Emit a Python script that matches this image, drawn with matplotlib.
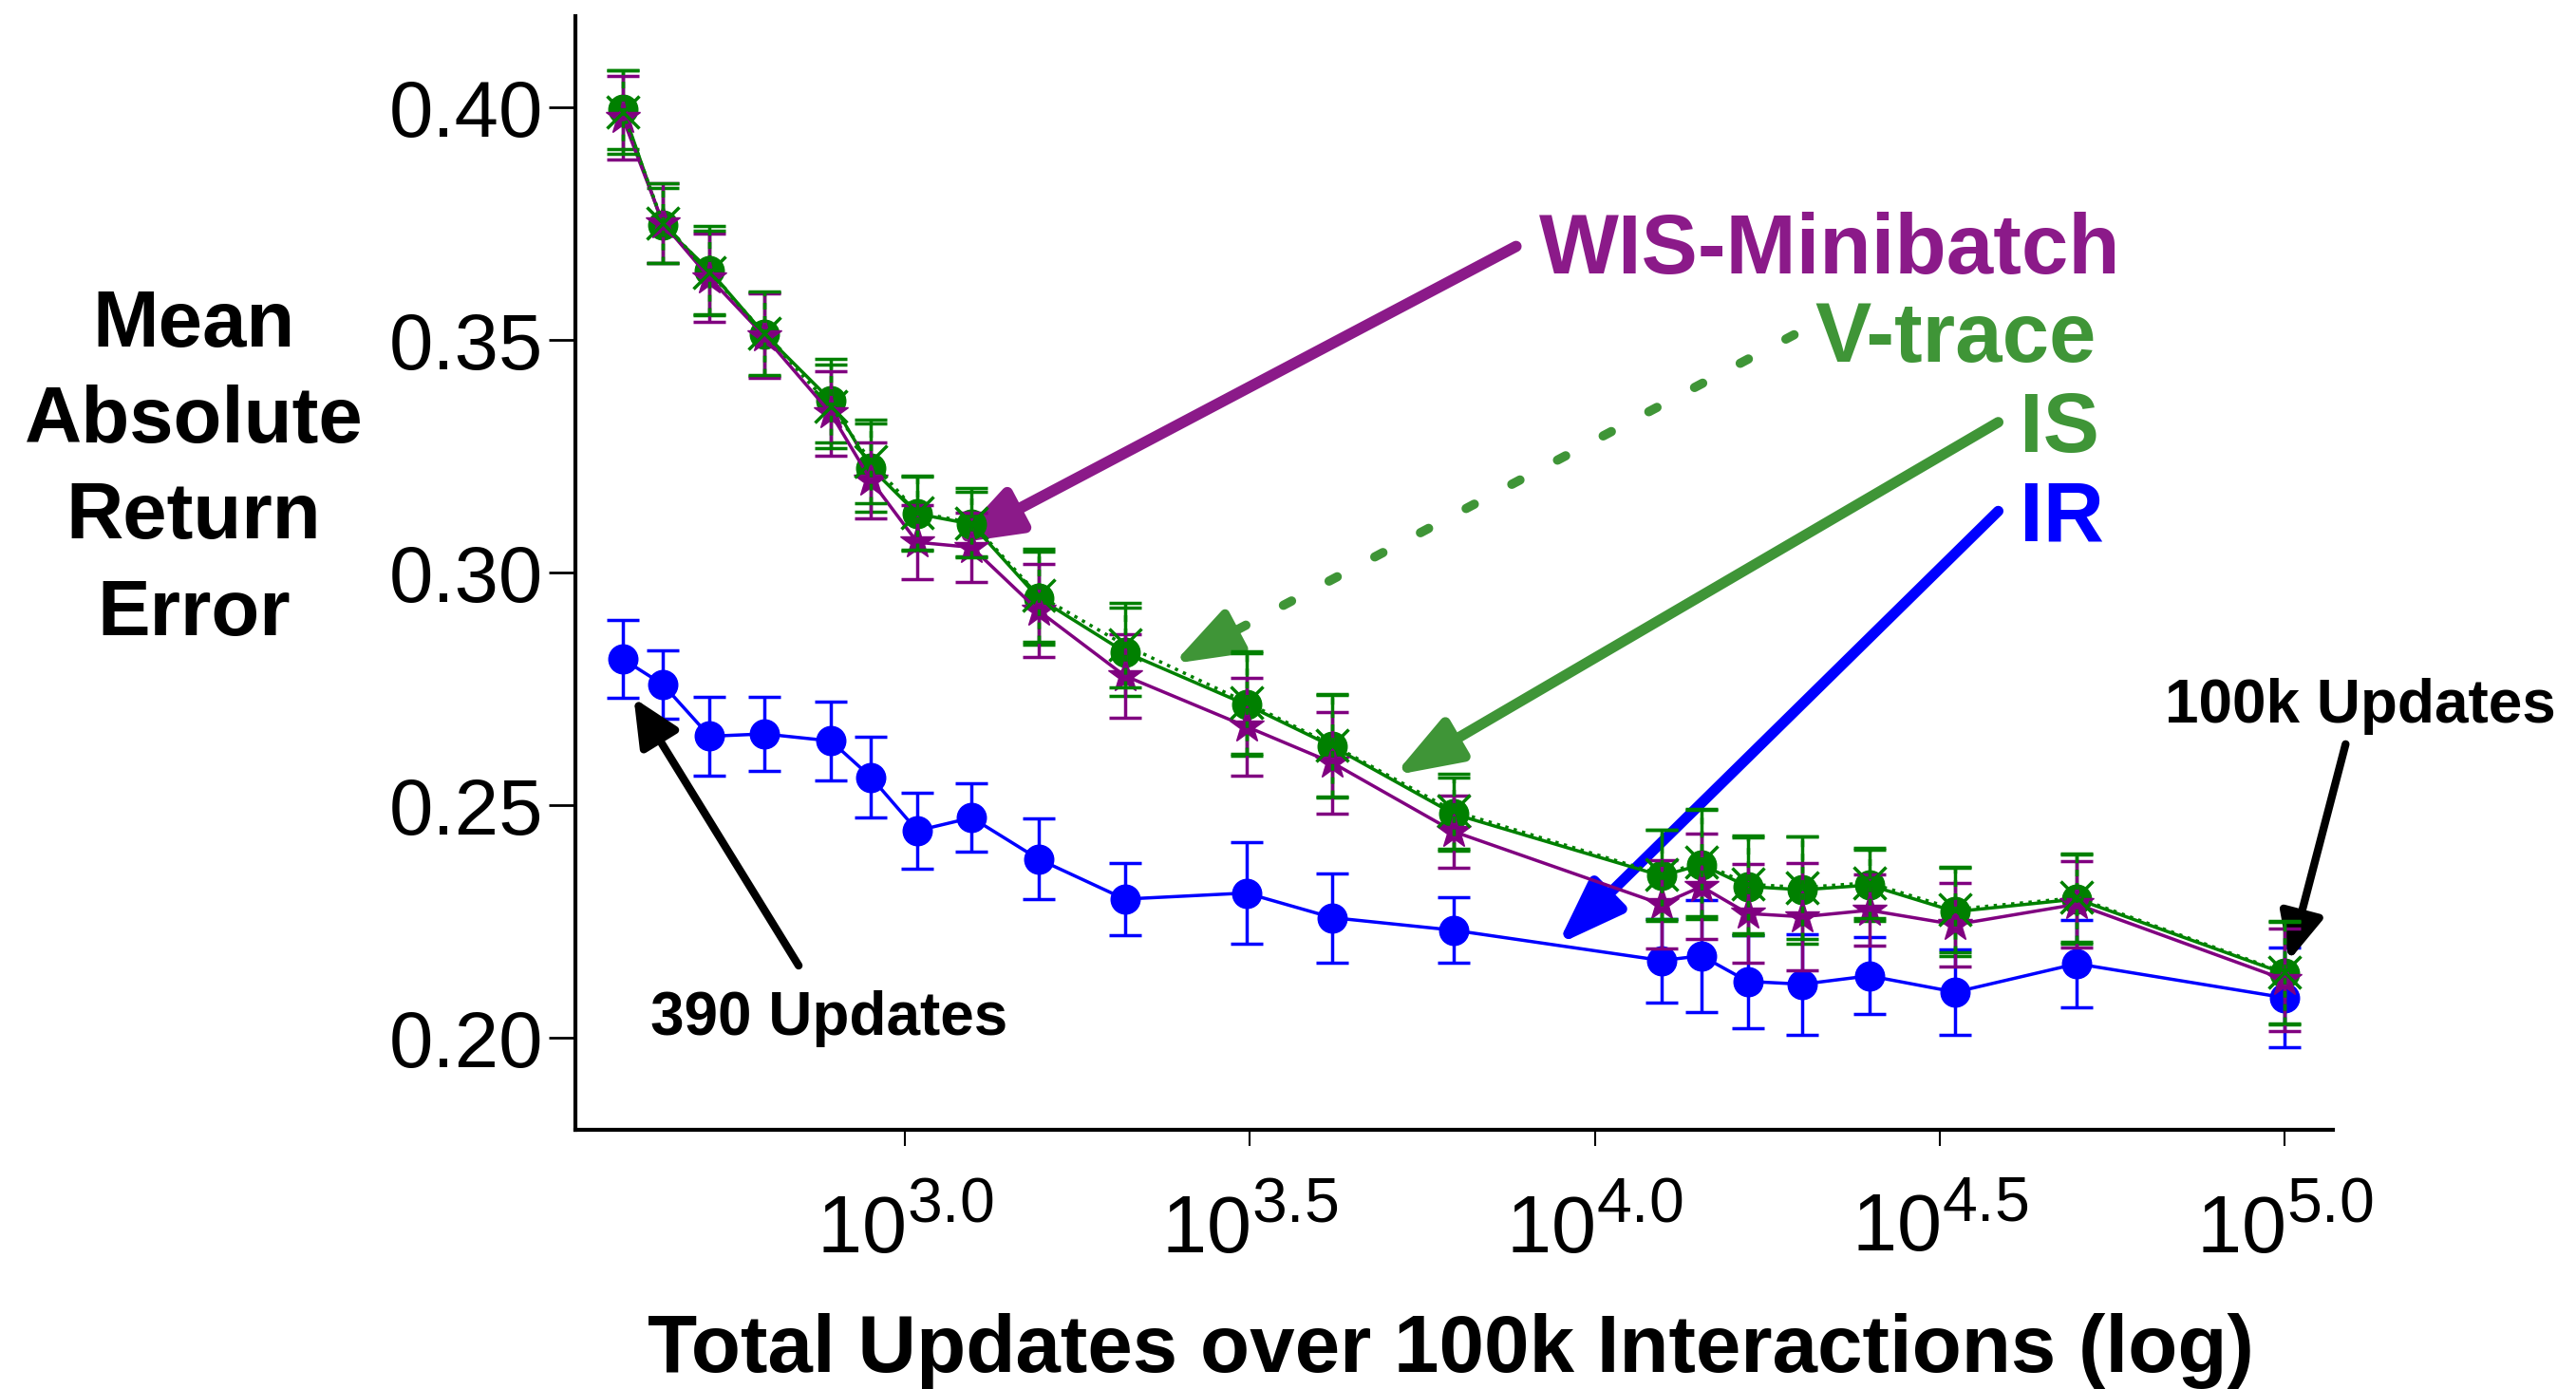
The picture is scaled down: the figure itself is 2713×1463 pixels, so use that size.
import numpy as np
import matplotlib
matplotlib.use("Agg")
import matplotlib.pyplot as plt

plt.rcParams['font.family'] = ['Liberation Sans', 'DejaVu Sans']
plt.rcParams['mathtext.fontset'] = 'custom'
plt.rcParams['mathtext.rm'] = 'Liberation Sans'
plt.rcParams['mathtext.it'] = 'Liberation Sans'
plt.rcParams['mathtext.bf'] = 'Liberation Sans:bold'

# larger exponents in the 10^x tick labels
try:
    import matplotlib._mathtext as _mt
    _mt.SHRINK_FACTOR = 0.78
except Exception:
    pass

# total updates over 100k interactions (100000 / n)
updates = [390, 446, 521, 625, 781, 893, 1042, 1250, 1562, 2083, 3125, 4167,
           6250, 12500, 14286, 16667, 20000, 25000, 33333, 50000, 100000]

ir_mean = [0.2815, 0.2760, 0.2649, 0.2654, 0.2639, 0.2561, 0.2446, 0.2474, 0.2385,
           0.2299, 0.2312, 0.2259, 0.2232, 0.2167, 0.2177, 0.2122, 0.2116, 0.2134,
           0.2099, 0.2160, 0.2087]
ir_err = [0.0084, 0.0073, 0.0085, 0.0080, 0.0085, 0.0087, 0.0082, 0.0073, 0.0087,
          0.0077, 0.0110, 0.0096, 0.0070, 0.0090, 0.0120, 0.0100, 0.0108, 0.0083,
          0.0092, 0.0094, 0.0107]

is_mean = [0.3996, 0.3747, 0.3650, 0.3514, 0.3371, 0.3226, 0.3127, 0.3105, 0.2946,
           0.2830, 0.2717, 0.2627, 0.2482, 0.2349, 0.2373, 0.2326, 0.2319, 0.2329,
           0.2272, 0.2299, 0.2139]
is_err = [0.0085, 0.0080, 0.0095, 0.0090, 0.0090, 0.0095, 0.0080, 0.0070, 0.0100,
          0.0095, 0.0110, 0.0110, 0.0078, 0.0098, 0.0117, 0.0105, 0.0115, 0.0076,
          0.0095, 0.0095, 0.0110]

vtrace_mean = [0.3990, 0.3752, 0.3646, 0.3516, 0.3358, 0.3240, 0.3130, 0.3108, 0.2952,
               0.2845, 0.2722, 0.2630, 0.2488, 0.2352, 0.2378, 0.2331, 0.2324, 0.2334,
               0.2277, 0.2302, 0.2141]
vtrace_err = [0.0090, 0.0085, 0.0090, 0.0090, 0.0090, 0.0090, 0.0080, 0.0075, 0.0100,
              0.0090, 0.0110, 0.0110, 0.0080, 0.0095, 0.0115, 0.0105, 0.0110, 0.0075,
              0.0092, 0.0095, 0.0110]

wis_mean = [0.3978, 0.3752, 0.3634, 0.3510, 0.3343, 0.3199, 0.3066, 0.3055, 0.2919,
            0.2779, 0.2670, 0.2592, 0.2444, 0.2288, 0.2326, 0.2268, 0.2261, 0.2275,
            0.2244, 0.2288, 0.2126]
wis_err = [0.0090, 0.0085, 0.0095, 0.0090, 0.0090, 0.0082, 0.0080, 0.0075, 0.0100,
           0.0090, 0.0105, 0.0110, 0.0077, 0.0095, 0.0113, 0.0106, 0.0116, 0.0076,
           0.0090, 0.0093, 0.0110]

yticks = [0.20, 0.25, 0.30, 0.35, 0.40]
xtick_exp = [3.0, 3.5, 4.0, 4.5, 5.0]

GREEN = '#008000'
PURPLE = '#800080'
BLUE = '#0000ff'
ANN_GREEN = '#3f9537'
ANN_PURPLE = '#8b1a89'

fig = plt.figure(figsize=(27.13, 14.63), dpi=100)
ax = fig.add_axes([0.2232, 0.1866, 0.6823, 0.8018])

eb = dict(lw=2.5, elinewidth=2.5, capsize=12.5, capthick=2.5)
ax.errorbar(updates, ir_mean, yerr=ir_err, color=BLUE, marker='o', ms=22, zorder=3, **eb)
ax.errorbar(updates, is_mean, yerr=is_err, color=GREEN, marker='o', ms=22, zorder=4, **eb)
ax.errorbar(updates, wis_mean, yerr=wis_err, color=PURPLE, marker='*', ms=27, zorder=5, **eb)
vt = ax.errorbar(updates, vtrace_mean, yerr=vtrace_err, color=GREEN, marker='x', ms=24,
                 mew=2.5, ls=':', zorder=6, **eb)
vt[2][0].set_linestyle((0, (2, 2)))

ax.set_xscale('log')
ax.set_xlim(10 ** 2.5217, 10 ** 5.0697)
ax.set_ylim(0.1803, 0.4197)
ax.set_xticks([10 ** e for e in xtick_exp])
ax.set_xticklabels([r'$10^{%.1f}$' % e for e in xtick_exp])
ax.xaxis.set_minor_locator(matplotlib.ticker.NullLocator())
ax.set_yticks(yticks)
ax.set_yticklabels(['%.2f' % v for v in yticks])
ax.tick_params(axis='y', direction='out', length=20, width=2, pad=4, labelsize=60)
ax.tick_params(axis='x', direction='out', length=12, width=1.5, pad=34, labelsize=61)

for s in ['top', 'right']:
    ax.spines[s].set_visible(False)
for s in ['left', 'bottom']:
    ax.spines[s].set_linewidth(3)

fig.text(0.0752, 0.6618, 'Mean\nAbsolute\nReturn\nError', ha='center', va='center',
         fontsize=60, fontweight='bold', linespacing=1.38)
fig.text(0.5632, 0.0123, 'Total Updates over 100k Interactions (log)', ha='center',
         va='baseline', fontsize=61.5, fontweight='bold')


def arrow(tail, tip, color, lw, hl, hw):
    ax.annotate('', xy=(10 ** tip[0], tip[1]), xytext=(10 ** tail[0], tail[1]),
                xycoords='data', textcoords='data', annotation_clip=False,
                arrowprops=dict(arrowstyle='-|>,head_length=%g,head_width=%g' % (hl, hw),
                                lw=lw, color=color, mutation_scale=1,
                                shrinkA=0, shrinkB=0, capstyle='round'))


# solid annotation arrows (log10 x, y)
arrow((3.886, 0.3702), (3.0695, 0.3063), ANN_PURPLE, 8.5, 42, 15)
arrow((4.585, 0.3324), (3.709, 0.2565), ANN_GREEN, 8, 42, 15)
arrow((4.585, 0.3133), (3.946, 0.2201), BLUE, 8, 42, 15)
arrow((2.846, 0.2156), (2.607, 0.2731), 'black', 6, 30, 14)
arrow((5.0886, 0.2632), (5.0067, 0.2167), 'black', 6, 30, 14)

# dashed V-trace arrow: dashed shaft plus solid head
vt_tail = (4.289, 0.3512)
vt_tip = (3.389, 0.2805)
vt_mid = (vt_tip[0] + 0.1 * (vt_tail[0] - vt_tip[0]), vt_tip[1] + 0.1 * (vt_tail[1] - vt_tip[1]))
ax.annotate('', xy=(10 ** vt_mid[0], vt_mid[1]), xytext=(10 ** vt_tail[0], vt_tail[1]),
            arrowprops=dict(arrowstyle='-', lw=7, color=ANN_GREEN, linestyle=(0, (1.0, 4.6)),
                            capstyle='round', shrinkA=0, shrinkB=0))
arrow(vt_mid, vt_tip, ANN_GREEN, 7, 42, 15)

lab = dict(fontsize=64, fontweight='bold', ha='left', va='baseline')
ax.text(10 ** 3.919, 0.3644, 'WIS-Minibatch', color=ANN_PURPLE, **lab)
ax.text(10 ** 4.319, 0.3454, 'V-trace', color=ANN_GREEN, **lab)
ax.text(10 ** 4.616, 0.3261, 'IS', color=ANN_GREEN, **lab)
ax.text(10 ** 4.616, 0.3070, 'IR', color=BLUE, **lab)
ax.text(10 ** 2.631, 0.2008, '390 Updates', fontsize=46, fontweight='bold',
        ha='left', va='baseline')
ax.text(10 ** 4.826, 0.2678, '100k Updates', fontsize=46, fontweight='bold',
        ha='left', va='baseline')

fig.savefig('out.png', dpi=100)
